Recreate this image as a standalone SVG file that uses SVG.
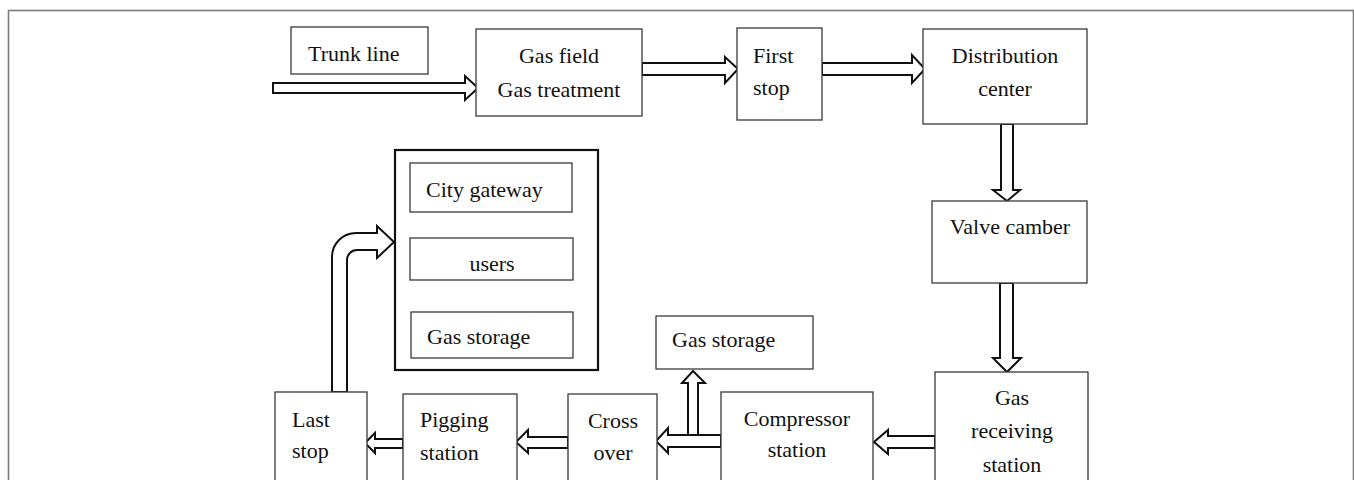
<svg xmlns="http://www.w3.org/2000/svg" width="1354" height="480" viewBox="0 0 1354 480">
<style>
.box{fill:#fff;stroke:#3a3a3a;stroke-width:1.3}
.big{fill:#fff;stroke:#111;stroke-width:2.2}
.arr{fill:#fff;stroke:#111;stroke-width:2;stroke-linejoin:miter}
text{font-family:"Liberation Serif","Times New Roman",serif;font-size:22px;fill:#111}
.c{text-anchor:middle}
</style>
<rect x="0" y="0" width="1354" height="480" fill="#fff"/>
<rect x="8.5" y="10.5" width="1345" height="490" fill="none" stroke="#7a7a7a" stroke-width="1.6"/>

<g id="connectors">
<polygon class="arr" points="273,83 465,83 465,76 478,88 465,100 465,93 273,93"/>
<polygon class="arr" points="642,63 725,63 725,57 738,69 725,83 725,75 642,75"/>
<polygon class="arr" points="822,63 912,63 912,55 925,69 912,83 912,75 822,75"/>
<polygon class="arr" points="1001,124 1013,124 1013,190 1020,190 1007,201 993,190 1001,190"/>
<polygon class="arr" points="1000,283 1013,283 1013,358 1021,358 1007,372 993,358 1000,358"/>
<polygon class="arr" points="935,436 888,436 888,430 874,442 888,454 888,448 935,448"/>
<polygon class="arr" points="721,435 668,435 668,428 656,441 668,453 668,447 721,447"/>
<polygon class="arr" points="688,435 688,383 682,383 693,371 705,383 698,383 698,435"/>
<polygon class="arr" points="568,437 528,437 528,430 516,442 528,453 528,448 568,448"/>
<polygon class="arr" points="403,439 375,439 375,433 365,443 375,453 375,448 403,448"/>
<path class="arr" d="M332,392 L332,257 A24,24 0 0 1 356,233 L377,233 L377,226 L394,242 L377,258 L377,250 L357,250 A10,10 0 0 0 347,260 L347,392 Z"/>
</g>

<g id="trunk-line"><rect class="box" x="291" y="27" width="137" height="47"/><text x="308" y="61">Trunk line</text></g>
<g id="gas-field"><rect class="box" x="476" y="29" width="166" height="87"/><text class="c" x="559" y="63">Gas field</text><text class="c" x="559" y="97">Gas treatment</text></g>
<g id="first-stop"><rect class="box" x="737" y="28" width="85" height="92"/><text x="753" y="63">First</text><text x="753" y="95">stop</text></g>
<g id="distribution-center"><rect class="box" x="923" y="29" width="164" height="95"/><text class="c" x="1005" y="63">Distribution</text><text class="c" x="1005" y="96">center</text></g>
<g id="valve-camber"><rect class="box" x="932" y="201" width="155" height="82"/><text class="c" x="1010" y="234">Valve camber</text></g>
<g id="gas-receiving-station"><rect class="box" x="935" y="372" width="153" height="130"/><text class="c" x="1012" y="405">Gas</text><text class="c" x="1012" y="438">receiving</text><text class="c" x="1012" y="472">station</text></g>
<g id="compressor-station"><rect class="box" x="721" y="392" width="152" height="110"/><text class="c" x="797" y="426">Compressor</text><text class="c" x="797" y="457">station</text></g>
<g id="gas-storage-2"><rect class="box" x="656" y="316" width="157" height="53"/><text x="672" y="347">Gas storage</text></g>
<g id="cross-over"><rect class="box" x="568" y="394" width="89" height="108"/><text class="c" x="613" y="428">Cross</text><text class="c" x="613" y="460">over</text></g>
<g id="pigging-station"><rect class="box" x="403" y="394" width="114" height="108"/><text x="420" y="427">Pigging</text><text x="420" y="460">station</text></g>
<g id="last-stop"><rect class="box" x="275" y="392" width="92" height="110"/><text x="292" y="427">Last</text><text x="292" y="458">stop</text></g>
<g id="city-group">
<rect class="big" x="395" y="150" width="203" height="220"/>
<g id="city-gateway"><rect class="box" x="410" y="163" width="162" height="49"/><text x="426" y="197">City gateway</text></g>
<g id="users"><rect class="box" x="410" y="238" width="163" height="42"/><text class="c" x="492" y="271">users</text></g>
<g id="gas-storage-1"><rect class="box" x="411" y="312" width="162" height="46"/><text x="427" y="344">Gas storage</text></g>
</g>
</svg>
